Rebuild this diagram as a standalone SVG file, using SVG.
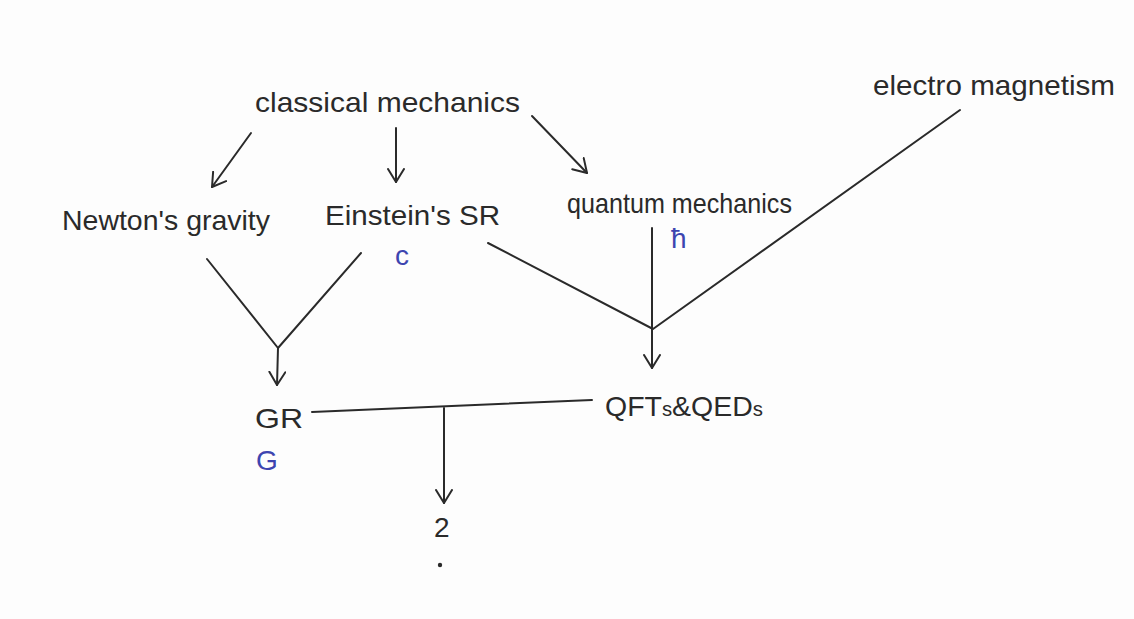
<svg xmlns="http://www.w3.org/2000/svg" width="1134" height="619" viewBox="0 0 1134 619">
  <defs>
    <marker id="arr" viewBox="-14 -9 16 18" markerWidth="16" markerHeight="18" refX="0" refY="0" orient="auto" markerUnits="userSpaceOnUse">
      <polyline points="-13,-8 0,0 -13,8" fill="none" stroke="#2a2a2a" stroke-width="2" stroke-linecap="round" stroke-linejoin="round"/>
    </marker>
    <style>
      .t { font-family: "Liberation Sans", "DejaVu Sans", sans-serif; fill: #2a2a2a; font-size: 28px; }
      .b { font-family: "Liberation Sans", "DejaVu Sans", sans-serif; fill: #3d45b0; font-size: 28px; }
      .ln { fill: none; stroke: #2a2a2a; stroke-width: 2; stroke-linecap: round; stroke-linejoin: round; }
      .ar { marker-end: url(#arr); }
    </style>
  </defs>
  <rect width="1134" height="619" fill="#fdfdfd"/>

  <g id="connectors">
    <line class="ln ar" x1="251" y1="133" x2="212" y2="187"/>
    <line class="ln ar" x1="396" y1="128" x2="396" y2="182"/>
    <line class="ln ar" x1="532" y1="116" x2="587" y2="173"/>
    <polyline class="ln" points="207,259 278,348 361,253"/>
    <line class="ln ar" x1="278" y1="348" x2="277" y2="385"/>
    <polyline class="ln" points="488,243 653,329 960,110"/>
    <line class="ln ar" x1="652" y1="228" x2="652" y2="368"/>
    <line class="ln" x1="312" y1="412" x2="592" y2="400"/>
    <line class="ln ar" x1="444" y1="408" x2="444" y2="503"/>
  </g>

  <g id="classical-mechanics">
    <text class="t" x="255" y="112" textLength="265" lengthAdjust="spacingAndGlyphs">classical mechanics</text>
  </g>
  <g id="electro-magnetism">
    <text class="t" x="873" y="95" textLength="242" lengthAdjust="spacingAndGlyphs">electro magnetism</text>
  </g>
  <g id="newtons-gravity">
    <text class="t" x="62" y="230" textLength="208" lengthAdjust="spacingAndGlyphs">Newton's gravity</text>
  </g>
  <g id="einsteins-sr">
    <text class="t" x="325" y="225" textLength="175" lengthAdjust="spacingAndGlyphs">Einstein's SR</text>
    <text class="b" x="395" y="265">c</text>
  </g>
  <g id="quantum-mechanics">
    <text class="t" x="567" y="213" font-size="26" textLength="225" lengthAdjust="spacingAndGlyphs">quantum mechanics</text>
    <text class="b" x="671" y="248">ħ</text>
  </g>
  <g id="gr">
    <text class="t" x="255" y="428" font-size="36" textLength="48" lengthAdjust="spacingAndGlyphs">GR</text>
    <text class="b" x="256" y="470">G</text>
  </g>
  <g id="qfts-qeds">
    <text class="t" x="605" y="416" font-size="30" textLength="158" lengthAdjust="spacingAndGlyphs">QFT<tspan font-size="20">s</tspan>&amp;QED<tspan font-size="20">s</tspan></text>
  </g>
  <g id="unknown">
    <text class="t" x="434" y="537">2</text>
    <circle cx="440" cy="565" r="2.2" fill="#2a2a2a"/>
  </g>
</svg>
